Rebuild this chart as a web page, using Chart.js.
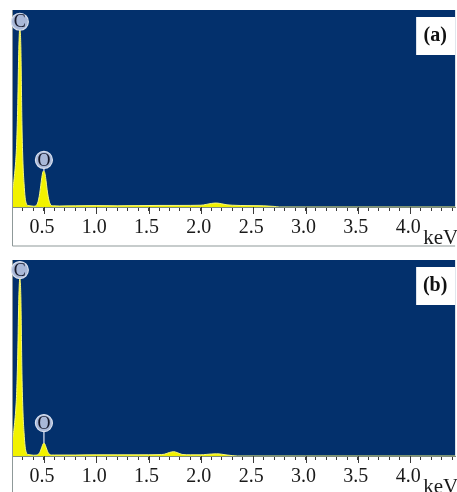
<!DOCTYPE html>
<html>
<head>
<meta charset="utf-8">
<script src="https://cdn.jsdelivr.net/npm/chart.js@4.4.0/dist/chart.umd.min.js"></script>
<style>
  html, body { margin: 0; padding: 0; background: #fff; }
  #lienzo { position: relative; width: 457px; height: 492px; overflow: hidden; }
  .panel { position: absolute; left: 0; width: 457px; }
  #panel-a { top: 0; height: 250px; }
  #panel-b { top: 250px; height: 242px; }
</style>
</head>
<body>
<div id="lienzo">
  <div class="panel" id="panel-a"><canvas id="grafico-a"></canvas></div>
  <div class="panel" id="panel-b"><canvas id="grafico-b"></canvas></div>
</div>
<script>
// Espectro (a): energia en keV, cuentas en unidades relativas
const energiaA = [0.195, 0.21, 0.22, 0.23, 0.24, 0.25, 0.26, 0.27, 0.28, 0.29, 0.30, 0.31, 0.32, 0.33, 0.345, 0.37, 0.40,
  0.42, 0.43, 0.44, 0.45, 0.46, 0.47, 0.48, 0.49, 0.50, 0.51, 0.52, 0.53, 0.54, 0.55, 0.56, 0.57, 0.59, 0.65,
  0.8, 1.0, 1.2, 1.4, 1.6, 1.8, 2.0, 2.05, 2.1, 2.15, 2.2, 2.25, 2.3, 2.45, 2.6, 2.7, 2.75, 3.0, 3.5, 4.0, 4.43]
const cuentasA = [8, 12, 17, 23, 33, 52, 80, 91, 80, 42, 22, 12, 5, 2, 0.8, 0.6, 0.4,
  0.5, 1, 2, 4, 7, 11, 15, 17.8, 18.3, 17, 13.5, 9, 5.5, 3, 1.5, 0.8, 0.6, 0.5,
  0.6, 0.7, 0.6, 0.7, 0.8, 0.8, 0.9, 1.3, 1.8, 2, 1.6, 1.1, 0.9, 0.7, 0.6, 0.3, 0, 0, 0, 0, 0]

// Espectro (b)
const energiaB = [0.195, 0.21, 0.22, 0.23, 0.24, 0.25, 0.26, 0.27, 0.28, 0.29, 0.30, 0.31, 0.32, 0.33, 0.345, 0.37, 0.40,
  0.43, 0.45, 0.46, 0.47, 0.48, 0.49, 0.50, 0.51, 0.52, 0.53, 0.54, 0.55, 0.57,
  0.6, 0.8, 1.0, 1.2, 1.4, 1.6, 1.65, 1.7, 1.74, 1.78, 1.82, 1.9, 2.0, 2.05, 2.1, 2.15, 2.2, 2.25, 2.3, 2.35, 3.0, 3.5, 4.0, 4.43]
const cuentasB = [8, 12, 17, 23, 33, 52, 80, 90.8, 80, 42, 22, 12, 5, 2, 0.8, 0.6, 0.4,
  0.5, 1, 1.8, 3, 4.5, 6, 6.6, 6, 4.5, 3, 1.8, 1, 0.5,
  0.5, 0.5, 0.6, 0.6, 0.6, 0.7, 0.9, 1.8, 2.2, 1.6, 0.8, 0.6, 0.6, 0.8, 1, 1.1, 0.9, 0.5, 0.2, 0, 0, 0, 0, 0]

// Picos identificados
const picos = ['C', 'O']
const energiaPicos = [0.27, 0.50]

const rangoEnergia = [0.195, 4.43]
const rangoCuentas = [0, 100]

const fuente = 'Liberation Serif, Times New Roman, serif'

function esMayor(v) {
  return Math.abs(v * 2 - Math.round(v * 2)) < 1e-6
}

const decorado = {
  id: 'decorado',
  beforeDraw(chart) {
    const { ctx, chartArea: a } = chart
    ctx.save()
    ctx.fillStyle = '#03306c'
    ctx.fillRect(a.left, a.top, a.right - a.left, a.bottom - a.top)
    ctx.restore()
  },
  afterDraw(chart, args, op) {
    const { ctx, chartArea: a, scales } = chart
    const x = scales.x
    const y = scales.y
    ctx.save()

    // marco izquierdo y de abajo
    ctx.strokeStyle = '#8f9999'
    ctx.lineWidth = 1
    ctx.beginPath()
    ctx.moveTo(a.left + 0.5, a.top)
    ctx.lineTo(a.left + 0.5, a.bottom + op.marcoAbajo)
    ctx.lineTo(a.right, a.bottom + op.marcoAbajo)
    ctx.stroke()

    // marcas mayores del eje
    ctx.strokeStyle = '#3a3a3a'
    x.ticks.forEach(t => {
      if (!esMayor(t.value)) return
      const px = Math.round(x.getPixelForValue(t.value)) + 0.5
      ctx.beginPath()
      ctx.moveTo(px, a.bottom)
      ctx.lineTo(px, a.bottom + 7)
      ctx.stroke()
    })

    // unidad
    ctx.fillStyle = '#1a1a1a'
    ctx.font = '21px ' + fuente
    ctx.textAlign = 'left'
    ctx.textBaseline = 'alphabetic'
    ctx.fillText('keV', a.right - 32, a.bottom + 37)

    // caja con la letra del panel
    ctx.fillStyle = '#ffffff'
    ctx.fillRect(a.right - 39, a.top + 7, 39, 38)
    ctx.fillStyle = '#111'
    ctx.font = 'bold 20px ' + fuente
    ctx.textAlign = 'center'
    ctx.textBaseline = 'middle'
    ctx.fillText(op.letra, a.right - 20, a.top + 26)

    // etiquetas de los picos
    const serie = chart.data.datasets[0].data
    picos.forEach((texto, i) => {
      const e = energiaPicos[i]
      let mejor = serie[0]
      serie.forEach(p => { if (Math.abs(p.x - e) < Math.abs(mejor.x - e)) mejor = p })
      const px = x.getPixelForValue(e)
      const py = y.getPixelForValue(mejor.y)
      const cy = py - op.separacion[i]
      ctx.strokeStyle = '#b7c3dc'
      ctx.lineWidth = 1.5
      ctx.beginPath()
      ctx.moveTo(px, py)
      ctx.lineTo(px, cy)
      ctx.stroke()
      ctx.beginPath()
      ctx.arc(px, cy, 8.5, 0, Math.PI * 2)
      ctx.fillStyle = '#a9b8d8'
      ctx.fill()
      ctx.strokeStyle = '#d9e0ee'
      ctx.lineWidth = 1.2
      ctx.stroke()
      ctx.fillStyle = '#15182a'
      ctx.font = '18px ' + fuente
      ctx.textAlign = 'center'
      ctx.textBaseline = 'middle'
      ctx.fillText(texto, px, cy + 1)
    })

    ctx.restore()
  }
}

function construirGrafico(idCanvas, energias, cuentas, letra, alturaEje, marcoAbajo, separacion) {
  const ctx = document.getElementById(idCanvas).getContext('2d')
  return new Chart(ctx, {
    type: 'line',
    data: {
      datasets: [{
        data: energias.map((e, i) => ({ x: e, y: cuentas[i] })),
        borderColor: '#f8f87a',
        borderWidth: 1,
        backgroundColor: '#f2f200',
        fill: 'origin',
        pointRadius: 0,
        cubicInterpolationMode: 'monotone'
      }]
    },
    options: {
      responsive: true,
      maintainAspectRatio: false,
      animation: false,
      layout: { padding: { top: 10, left: 12, right: 0, bottom: 0 } },
      plugins: {
        legend: { display: false },
        tooltip: { enabled: false },
        decorado: { letra: letra, marcoAbajo: marcoAbajo, separacion: separacion }
      },
      scales: {
        x: {
          type: 'linear',
          min: rangoEnergia[0],
          max: rangoEnergia[1],
          afterFit: s => { s.height = alturaEje },
          border: { color: '#7f8c7c', width: 1 },
          grid: { drawOnChartArea: false, tickLength: 4, color: '#3a3a3a' },
          ticks: {
            stepSize: 0.1,
            includeBounds: false,
            autoSkip: false,
            maxRotation: 0,
            padding: 5,
            labelOffset: -2,
            color: '#1a1a1a',
            font: { family: fuente, size: 20 },
            callback: v => (esMayor(v) && v < 4.2) ? v.toFixed(1) : ''
          }
        },
        y: {
          display: false,
          min: rangoCuentas[0],
          max: rangoCuentas[1]
        }
      }
    },
    plugins: [decorado]
  })
}

construirGrafico('grafico-a', energiaA, cuentasA, '(a)', 43, 39, [6, 11])
construirGrafico('grafico-b', energiaB, cuentasB, '(b)', 36, 40, [8, 20])
</script>
</body>
</html>
